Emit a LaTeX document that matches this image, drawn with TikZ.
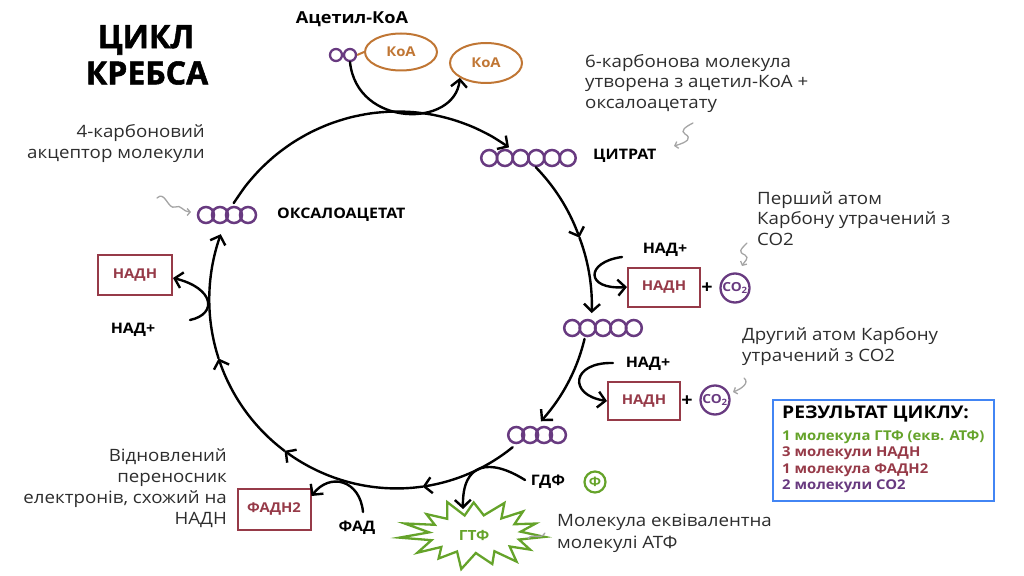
\documentclass[tikz,border=0pt]{standalone}
\usepackage{fontspec}
\setmainfont{Open Sans}[FakeStretch=1.1]
\newfontfamily\heavy{Open Sans}[BoldFeatures={FakeBold=1.6}]
\usetikzlibrary{arrows.meta,shapes.geometric}
\definecolor{molp}{RGB}{104,58,128}
\definecolor{nadred}{RGB}{150,58,72}
\definecolor{coao}{RGB}{192,118,52}
\definecolor{gtpg}{RGB}{101,163,42}
\definecolor{sqgray}{RGB}{165,165,165}
\definecolor{resblue}{RGB}{66,133,244}
\definecolor{txt}{RGB}{45,45,45}
\newcommand\cseg[4]{%
 \draw[cyc] plot[smooth,domain=#1:#2,samples=16] ({400+(#3+(#4-#3)*(\x-#1)/(#2-#1))*cos(\x)},{303+(#3+(#4-#3)*(\x-#1)/(#2-#1))*sin(\x)});}
\tikzset{
 cyc/.style={line width=2.4pt, line cap=round, line join=round, -{Straight Barb[length=7.5pt,width=16pt]}},
 mol/.style={circle, draw=molp, line width=2.5pt, minimum size=16pt, inner sep=0pt},
 lbl/.style={font=\fontsize{14.5}{17}\selectfont\bfseries, text=black, inner sep=0pt},
 body/.style={font=\fontsize{17}{21.3}\selectfont, text=txt, inner sep=0pt},
 titl/.style={font=\fontsize{32}{36}\selectfont\heavy\bfseries, text=black, inner sep=0pt},
 nadh/.style={draw=nadred, line width=2pt, minimum width=72pt, minimum height=39pt, text=nadred, font=\fontsize{13.5}{15}\selectfont\bfseries},
 coa/.style={ellipse, draw=coao, line width=2pt, minimum width=72pt, minimum height=37pt, inner sep=0pt, text=coao, font=\fontsize{13.5}{15}\selectfont\bfseries},
 co2/.style={circle, draw=molp, line width=2.3pt, minimum size=29pt, inner sep=0pt, text=molp, font=\fontsize{12.5}{14}\selectfont\bfseries},
 squig/.style={draw=sqgray, line width=1.3pt, line cap=round, -{Straight Barb[length=3pt,width=7pt]}},
 res/.style={font=\fontsize{13.5}{15}\selectfont\bfseries, inner sep=0pt, anchor=west},
}
\begin{document}
\begin{tikzpicture}[x=1pt,y=-1pt]
\useasboundingbox (0,0) rectangle (1024,575);
% title
\node[titl] (t1) at (146,40) {ЦИКЛ};
\node[titl] (t2) at (147,73) {КРЕБСА};
% acetyl-CoA
\node[font=\fontsize{16.5}{19}\selectfont\bfseries, inner sep=0pt] (acl) at (352,19) {Ацетил-КоА};
\node[mol, minimum size=12pt, line width=2.3pt] (ac1) at (336,55) {};
\node[mol, minimum size=12pt, line width=2.3pt] (ac2) at (350,55) {};
\node[coa] (koa1) at (401,52) {КоА};
\node[coa, minimum height=40pt] (koa2) at (486,63) {КоА};
\draw[coao, line width=2pt] (ac2.east) -- (koa1.west);
\draw[cyc] (ac2.south) .. controls (357,128) and (455,128) .. (koa2.south west);
% molecules
\foreach \i in {0,...,5} \node[mol] (cit\i) at ({489.2+15.7*\i},158) {};
\foreach \i in {0,...,3} \node[mol] (oxa\i) at ({206+14*\i},215) {};
\foreach \i in {0,...,4} \node[mol] (m5\i) at ({572.2+15.4*\i},328) {};
\foreach \i in {0,...,3} \node[mol] (m4\i) at ({516.2+13.9*\i},435) {};
\node[lbl, anchor=west] (citl) at (593,156) {ЦИТРАТ};
\node[lbl, anchor=west] (oxal) at (277,215) {ОКСАЛОАЦЕТАТ};
% main cycle
\cseg{211}{305}{194}{190}
\cseg{315}{340}{192}{191}
\cseg{340}{363}{191}{192}
\cseg{11}{40}{188}{184}
\cseg{52}{83}{183}{185}
\cseg{83}{128}{185}{187.6}
\cseg{128}{163}{187.6}{189.7}
\cseg{163}{201}{189.7}{192}
% NADH 1
\node[nadh] (nadh1) at (664,287) {НАДН};
\node[lbl] (nad1) at (665,250) {НАД+};
\coordinate (n1s) at (622,257);
\draw[cyc] (n1s) .. controls (585,262) and (585,290) .. (nadh1.west);
\node[font=\fontsize{18}{20}\selectfont\bfseries, inner sep=0pt] (p1) at (707,288) {+};
\node[co2] (co2a) at (735,288) {CO\textsubscript{2}};
% NADH 2
\node[nadh, minimum height=38pt] (nadh2) at (644,401) {НАДН};
\node[lbl] (nad2) at (648,364) {НАД+};
\coordinate (n2s) at (613,363);
\draw[cyc] (n2s) .. controls (571,362) and (568,395) .. (nadh2.west);
\node[font=\fontsize{18}{20}\selectfont\bfseries, inner sep=0pt] (p2) at (687,401) {+};
\node[co2] (co2b) at (715,400) {CO\textsubscript{2}};
% NADH 3
\node[nadh, minimum width=74pt, minimum height=40pt] (nadh3) at (135,275) {НАДН};
\node[lbl] (nad3) at (133,330) {НАД+};
\coordinate (n3s) at (190,320);
\draw[cyc] (n3s) .. controls (218,314) and (214,288) .. ([yshift=-3pt]nadh3.east);
% FADH2
\node[nadh, minimum width=73pt, minimum height=41pt] (fadh) at (274,509) {ФАДН2};
\node[lbl] (fad) at (357,528) {ФАД};
\coordinate (fs) at (363,512);
\draw[cyc] (fs) .. controls (360,480) and (330,472) .. ([yshift=13pt]fadh.east);
% GTP
\draw[gtpg, line width=2.3pt, line join=miter] plot[domain=0:29, samples=30] ({475+(mod(\x,2)==0 ? 70*(1+0.1*sin(\x*137)) : 46)*cos(\x*360/30+5)}, {534+(mod(\x,2)==0 ? 33*(1+0.1*sin(\x*97)) : 19)*sin(\x*360/30+5)}) -- cycle;
\node[font=\fontsize{14}{16}\selectfont\bfseries, text=gtpg, inner sep=0pt] (gtp) at (474,535) {ГТФ};
\node[lbl] (gdp) at (548,482) {ГДФ};
\node[circle, draw=gtpg, line width=2.2pt, minimum size=21pt, inner sep=0pt, text=gtpg, font=\fontsize{13}{15}\selectfont\bfseries] (pi) at (595,482) {Ф};
\coordinate (gs) at (525,480);
\coordinate (gtpin) at (463,509);
\draw[cyc] (gs) .. controls (490,458) and (462,462) .. (gtpin);
% body texts
\node[body, align=right, anchor=north east] (d1) at (205,124) {4-карбоновий\\акцептор молекули};
\node[body, align=left, anchor=north west, font=\fontsize{17}{20.5}\selectfont] (d2) at (585,54) {6-карбонова молекула\\утворена з ацетил-КоА +\\оксалоацетату};
\node[body, align=left, anchor=north west, font=\fontsize{17}{20.5}\selectfont] (d3) at (757,191) {Перший атом\\Карбону утрачений з\\СО2};
\node[body, align=left, anchor=north west] (d4) at (742,327) {Другий атом Карбону\\утрачений з СО2};
\node[body, align=right, anchor=north east] (d5) at (227,448) {Відновлений\\переносник\\електронів, схожий на\\НАДН};
\node[body, align=left, anchor=north west, font=\fontsize{17}{22}\selectfont] (d6) at (557,514) {Молекула еквівалентна\\молекулі АТФ};
% squiggles
\draw[squig] (157,198) .. controls (165,190) and (168,210) .. (175,207) .. controls (181,204) and (183,212) .. (191,212);
\draw[squig] (693,123) .. controls (685,127) and (680,131) .. (685,134) .. controls (692,138) and (688,142) .. (674,146);
\draw[squig] (747,243) .. controls (740,250) and (738,252) .. (745,255) .. controls (750,258) and (744,262) .. (742,266);
\draw[squig] (744,378) .. controls (750,383) and (741,389) .. (733,392);
\draw[draw=sqgray, line width=1.3pt, line cap=round] (528,539) .. controls (532,532) and (540,541) .. (545,533);
% result box
\node[draw=resblue, line width=2.5pt, minimum width=221pt, minimum height=101pt, inner sep=0pt] (resbox) at (883.5,450.5) {};
\node[res, font=\fontsize{17.5}{19}\selectfont\bfseries] (r0) at (782,414) {РЕЗУЛЬТАТ ЦИКЛУ:};
\node[res, text=gtpg] (r1) at (782,437) {1 молекула ГТФ (екв. АТФ)};
\node[res, text=nadred] (r2) at (782,453) {3 молекули НАДН};
\node[res, text=nadred] (r3) at (782,470) {1 молекула ФАДН2};
\node[res, text=molp] (r4) at (782,486) {2 молекули СО2};
\end{tikzpicture}
\end{document}
